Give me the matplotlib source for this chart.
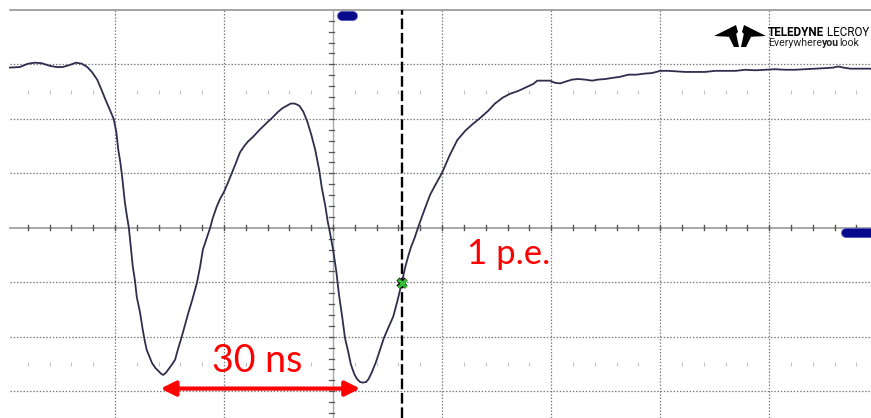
import numpy as np
import matplotlib
matplotlib.use("Agg")
import matplotlib.pyplot as plt
from matplotlib.patches import Polygon
from matplotlib.transforms import Affine2D
import matplotlib.patheffects as pe

# Scope trace: time (ns) and amplitude (mV)
time_ns = [
    -48.9, -47.4, -46.2, -45.1, -44.1, -42.8, -41.8, -40.9, -39.8, -38.9, -38.0, -37.2,
    -36.5, -35.7, -35.1, -34.5, -33.9, -33.5, -33.2, -32.8, -32.5, -32.2, -31.9, -31.5,
    -31.2, -30.9, -30.6, -30.3, -30.0, -29.7, -29.2, -28.8, -28.5, -28.2, -27.7, -27.4,
    -26.9, -26.5, -26.0, -25.7, -25.3, -25.0, -24.5, -23.9, -23.5, -22.9, -22.4, -21.9,
    -21.3, -20.6, -20.1, -19.7, -19.2, -18.6, -18.2, -17.6, -17.1, -16.5, -15.9, -15.3,
    -14.7, -14.1, -13.5, -12.9, -12.1, -11.1, -10.0, -9.2, -8.3, -7.6, -7.0, -6.4,
    -5.8, -5.1, -4.5, -3.9, -3.3, -2.7, -2.1, -1.7, -1.2, -0.8, -0.5, 0.0,
    0.5, 0.9, 1.4, 1.8, 2.3, 2.7, 3.2, 3.6, 4.1, 4.5, 5.0, 5.4,
    5.9, 6.5, 7.1, 7.7, 8.3, 9.1, 9.7, 10.1, 10.4, 10.9, 11.4, 11.8,
    12.3, 12.9, 13.5, 14.1, 14.7, 15.4, 16.5, 17.6, 18.8, 20.0, 21.0, 22.3,
    23.5, 24.5, 25.7, 26.8, 28.0, 29.4, 30.3, 30.9, 31.9, 32.8, 33.6, 34.4,
    35.1, 36.2, 37.1, 38.1, 39.2, 40.1, 41.2, 42.2, 43.4, 44.7, 45.9, 47.2,
    48.3, 49.5, 50.7, 51.9, 53.3, 54.8, 56.3, 57.8, 59.3, 60.9, 62.4, 63.9,
    65.4, 66.9, 68.4, 69.9, 71.5, 73.0, 74.5, 75.7, 76.4, 77.2, 78.3, 79.8, 81.4,
]
amplitude_mv = [
    29.4, 29.5, 30.1, 30.3, 30.2, 29.7, 29.5, 29.5, 29.9, 30.3, 30.1, 29.5,
    28.6, 27.2, 25.5, 23.7, 22.0, 20.9, 20.0, 17.6, 14.3, 12.1, 9.2, 4.6,
    2.2, 0.0, -3.7, -7.2, -9.5, -12.7, -15.6, -18.7, -20.7, -22.4, -23.9, -24.8,
    -25.7, -26.2, -26.8, -27.0, -26.6, -26.1, -25.3, -24.2, -22.4, -20.0, -17.8, -15.6,
    -13.2, -10.1, -7.0, -4.0, -2.2, 0.0, 1.8, 3.9, 5.3, 6.6, 8.3, 10.1,
    11.9, 13.8, 14.9, 15.8, 16.7, 18.0, 19.3, 20.2, 21.3, 22.0, 22.4, 22.8,
    22.8, 22.4, 21.3, 19.5, 17.1, 14.3, 10.6, 7.3, 4.2, 1.1, -0.7, -4.0,
    -8.1, -12.3, -16.5, -20.2, -22.8, -25.1, -26.8, -27.7, -28.3, -28.4, -28.3, -27.7,
    -26.4, -24.6, -22.4, -20.2, -18.5, -16.3, -13.6, -11.6, -10.1, -7.3, -5.1, -3.5,
    -2.0, 0.2, 2.2, 4.2, 6.1, 7.7, 10.1, 13.2, 16.1, 17.8, 18.9, 20.2,
    21.5, 22.8, 23.9, 24.6, 25.1, 25.9, 26.4, 27.0, 27.0, 27.0, 26.6, 26.5,
    26.8, 27.2, 27.3, 27.2, 27.0, 27.2, 27.3, 27.5, 27.7, 28.1, 28.1, 28.3,
    28.4, 28.8, 28.8, 28.7, 28.6, 28.6, 28.6, 28.8, 28.8, 28.8, 29.0, 28.9,
    29.0, 29.1, 29.0, 29.0, 29.1, 29.2, 29.3, 29.4, 29.6, 29.4, 29.2, 29.2, 29.2,
]

NS_PER_DIV = 16.5
MV_PER_DIV = 10.0
cursor_ns = 10.4
trough_ns = -25.7
spacing_ns = 30
spacing_label = "30 ns"
pe_label = "1 p.e."

W, H = 871, 418
fig = plt.figure(figsize=(W / 100, H / 100), dpi=100)
fig.patch.set_facecolor("white")
ax = fig.add_axes([0, 0, 1, 1])
ax.set_axis_off()
x0, x1 = -50.4, 81.4
y0, y1 = -34.9, 41.8
ax.set_xlim(x0, x1)
ax.set_ylim(y0, y1)

left_edge = -48.9
top = 4 * MV_PER_DIV
grid_col = "#7c7c7c"
dotted = (0, (1.2, 1.4))

# graticule
for k in range(-2, 5):
    if k == 0:
        continue
    ax.plot([k * NS_PER_DIV] * 2, [y0, top], color=grid_col, lw=0.9, ls=dotted, zorder=1)
for j in range(-3, 4):
    if j == 0:
        continue
    ax.plot([left_edge, x1], [j * MV_PER_DIV] * 2, color=grid_col, lw=0.9, ls=dotted, zorder=1)
ax.plot([left_edge, x1], [top, top], color="#8c8c8c", lw=1.1, zorder=1)

# centre axes with minor ticks
ax.plot([left_edge, x1], [0, 0], color="#a8a8a8", lw=1.4, zorder=1)
ax.plot([0, 0], [y0, top], color="#a8a8a8", lw=1.0, zorder=1)
minor_t = np.arange(-15, 25) * NS_PER_DIV / 5
minor_t = minor_t[(minor_t > left_edge) & (minor_t < x1)]
for t in minor_t:
    ax.plot([t, t], [-0.45, 0.45], color="#555555", lw=1.0, zorder=2)
minor_v = np.arange(-18, 21) * MV_PER_DIV / 5
for v in minor_v:
    if v < top:
        ax.plot([-0.55, 0.15], [v, v], color="#555555", lw=0.9, zorder=2)
for v in (2.5 * MV_PER_DIV, -2.5 * MV_PER_DIV):
    pts = [t for t in minor_t if abs(t / NS_PER_DIV - round(t / NS_PER_DIV)) > 0.05]
    ax.plot(pts, [v] * len(pts), ls="none", marker="|", ms=2.5, color="#c4c4c4", mew=0.8, zorder=1)

# waveform
ax.plot(time_ns, amplitude_mv, color="#2e2e4e", lw=1.3, zorder=4, solid_joinstyle="round")

# cursor and crossing marker
ax.plot([cursor_ns, cursor_ns], [y0, top], color="black", lw=1.7, ls=(0, (4.5, 1.6)), zorder=3)
cross_v = np.interp(cursor_ns, time_ns, amplitude_mv)
ax.plot([cursor_ns], [cross_v], marker="x", ms=6, mew=2.2, color="#33bb33", zorder=6,
        path_effects=[pe.Stroke(linewidth=3.2, foreground="black"), pe.Normal()])

# trigger position / level markers
ax.plot([1.3, 3.0], [38.9, 38.9], color="#08088a", lw=6.0, solid_capstyle="round", zorder=5,
        path_effects=[pe.Stroke(linewidth=7.2, foreground="#6a6ac8"), pe.Normal()])
ax.plot([77.6, 84.0], [-0.9, -0.9], color="#08088a", lw=6.0, solid_capstyle="round", zorder=5,
        path_effects=[pe.Stroke(linewidth=7.2, foreground="#6a6ac8"), pe.Normal()])

# annotations
red = "#ff0000"
ax.annotate("", xy=(trough_ns - 0.4, -29.5), xytext=(trough_ns + spacing_ns - 0.2, -29.5),
            arrowprops=dict(arrowstyle="<|-|>", color=red, lw=3.0,
                            mutation_scale=22, shrinkA=0, shrinkB=0), zorder=7)
ax.text(trough_ns + spacing_ns / 2 - 0.8, -26.4, spacing_label, color=red, fontsize=27,
        family="Lato", ha="center", va="baseline", zorder=7)
ax.text(20.3, -6.6, pe_label, color=red, fontsize=25, family="Lato",
        ha="left", va="baseline", zorder=7)

# brand mark in pixel coordinates (origin top-left)
px = Affine2D().scale(1 / W, -1 / H).translate(0, 1) + fig.transFigure
emblem = [
    [(714, 36), (736, 25), (738, 32), (733, 37)],
    [(729, 37), (736, 33), (739, 47), (734, 47)],
    [(766, 36), (744, 25), (742, 32), (747, 37)],
    [(751, 37), (744, 33), (741, 47), (746, 47)],
]
for poly in emblem:
    fig.add_artist(Polygon(poly, closed=True, transform=px, color="black", lw=0))

renderer = fig.canvas.get_renderer()
logo_font = "Roboto"


def chain(parts, x, y, size, color, width):
    """Write consecutive text pieces, sized so the run spans the given width."""
    probes = [fig.text(0, 0, s, family=logo_font, weight=w, fontsize=size) for s, w in parts]
    total = sum(p.get_window_extent(renderer).width for p in probes)
    for p in probes:
        p.remove()
    size *= width / total
    for s, weight in parts:
        t = fig.text(x, y, s, transform=px, family=logo_font, weight=weight,
                     fontsize=size, color=color, va="baseline")
        x += t.get_window_extent(renderer).width


chain([("TELEDYNE", "bold"), (" LECROY", "normal")], 768, 36, 10, "black", 101)
chain([("Everywhere", "normal"), ("you", "bold"), ("look", "normal")], 768, 46.5, 8, "#222222", 90)

fig.savefig("out.png", dpi=100, facecolor="white")
